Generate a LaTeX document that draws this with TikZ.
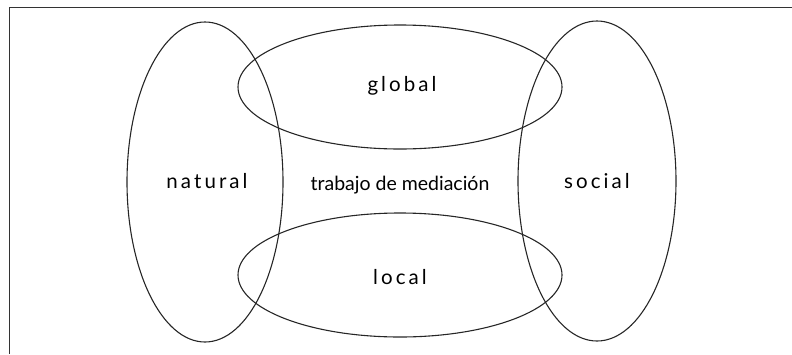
\documentclass[tikz,border=0pt]{standalone}
\usepackage{fontspec}
\usetikzlibrary{shapes.geometric}
\setmainfont{Lato}
\newfontfamily\spaced[LetterSpace=15]{Lato}
\begin{document}
\begin{tikzpicture}[x=1pt,y=-1pt,
  ring/.style={draw=black!85,line width=1.1pt,ellipse,inner sep=0pt},
  lbl/.style={font=\spaced\fontsize{20.5}{22}\selectfont,text=black,inner sep=0pt},
  mid/.style={font=\fontsize{19.5}{21}\selectfont,text=black,inner sep=0pt}]
\useasboundingbox (0,0) rectangle (792,354);
\coordinate (tl) at (9,7);
\coordinate (tr) at (792,7);
\coordinate (bl) at (9,354);
\draw[line width=1pt,black!80] (tr) -- (tl) -- (bl);
\node[ring,minimum width=156pt,minimum height=320pt] (natural) at (205,182) {};
\node[ring,minimum width=158pt,minimum height=320pt] (social) at (597,181) {};
\node[ring,minimum width=324pt,minimum height=124pt] (global) at (400,87) {};
\node[ring,minimum width=324pt,minimum height=124pt] (local) at (400,275) {};
\node[lbl,anchor=base] (tnat) at (207,188) {natural};
\node[lbl,anchor=base] (tsoc) at (597,188) {social};
\node[lbl,anchor=base] (tglo) at (402,91) {global};
\node[lbl,anchor=base] (tloc) at (400,284) {local};
\node[mid,anchor=base] (tmed) at (400,190) {trabajo de mediación};
\end{tikzpicture}
\end{document}
